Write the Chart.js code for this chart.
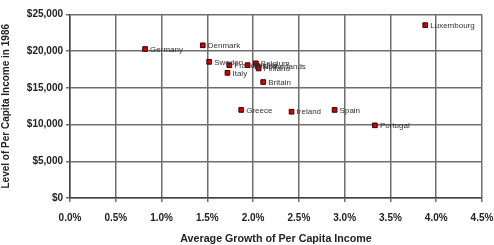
<!DOCTYPE html>
<html>
<head>
<meta charset="utf-8">
<script src="https://cdn.jsdelivr.net/npm/chart.js@4/dist/chart.umd.min.js"></script>
<style>
  html, body { margin: 0; padding: 0; background: #fff; }
  #wrap { width: 494px; height: 245px; }
</style>
</head>
<body>
<div id="wrap"><canvas id="chart" width="494" height="245"></canvas></div>
<script>
// countries, growth (%) and 1986 per capita income
var COUNTRIES = ["Germany", "Denmark", "Sweden", "France", "Italy", "Austria", "Belgium",
                 "Netherlands", "Finland", "Britain", "Greece", "Ireland", "Spain", "Portugal", "Luxembourg"];
var GROWTH = [0.82, 1.45, 1.52, 1.74, 1.72, 1.94, 2.03, 2.05, 2.06, 2.11, 1.87, 2.42, 2.89, 3.33, 3.88];
var INCOME = [20300, 20800, 18550, 18100, 17050, 18100, 18350, 17950, 17650, 15800, 12000, 11750, 12000, 9900, 23550];

var X_TICKS = [0, 0.5, 1.0, 1.5, 2.0, 2.5, 3.0, 3.5, 4.0, 4.5];
var Y_TICKS = [0, 5000, 10000, 15000, 20000, 25000];

var FONT = "'Liberation Sans', Arial, sans-serif";

// draws the country name to the right of every marker
var pointLabels = {
    id: "pointLabels",
    afterDatasetsDraw: function(chart) {
        var ctx = chart.ctx;
        var meta = chart.getDatasetMeta(0);
        ctx.save();
        ctx.font = "8px " + FONT;
        ctx.fillStyle = "#333";
        ctx.textBaseline = "middle";
        ctx.textAlign = "left";
        meta.data.forEach(function(pt, i) {
            ctx.fillText(COUNTRIES[i], pt.x + 5, pt.y + 0.5);
        });
        ctx.restore();
    }
};

function buildData() {
    var pts = [];
    for (var i = 0; i < COUNTRIES.length; i++)
        pts.push({ x: GROWTH[i], y: INCOME[i] });
    return pts;
}

new Chart(document.getElementById("chart"), {
    type: "scatter",
    data: {
        datasets: [{
            data: buildData(),
            pointStyle: "rect",
            pointRadius: 3.3,
            pointBackgroundColor: "#d00000",
            pointBorderColor: "#3a0000",
            pointBorderWidth: 1
        }]
    },
    options: {
        responsive: false,
        animation: false,
        layout: { padding: { top: 14.5, right: 0, left: 0, bottom: 0 } },
        plugins: {
            legend: { display: false },
            tooltip: { enabled: false }
        },
        scales: {
            x: {
                type: "linear",
                min: 0,
                max: 4.5,
                afterBuildTicks: function(axis) {
                    axis.ticks = X_TICKS.map(function(v) { return { value: v }; });
                },
                // fixed height for the axis + title, and only room for half the last label
                afterFit: function(axis) {
                    axis.height = 47;
                    axis.paddingRight = 12;
                },
                ticks: {
                    callback: function(v) { return v.toFixed(1) + "%"; },
                    font: { family: FONT, size: 10, weight: "bold" },
                    color: "#222",
                    maxRotation: 0,
                    padding: 10
                },
                grid: { color: "#6e6e6e", lineWidth: 1.5, tickLength: 4 },
                border: { color: "#444", width: 1.5 },
                title: {
                    display: true,
                    text: "Average Growth of Per Capita Income",
                    font: { family: FONT, size: 10.7, weight: "bold" },
                    color: "#222",
                    padding: { top: 7, bottom: 0 }
                }
            },
            y: {
                type: "linear",
                min: 0,
                max: 25000,
                afterBuildTicks: function(axis) {
                    axis.ticks = Y_TICKS.map(function(v) { return { value: v }; });
                },
                afterFit: function(axis) { axis.width = 70; },
                ticks: {
                    callback: function(v) { return "$" + v.toLocaleString("en-US"); },
                    font: { family: FONT, size: 10, weight: "bold" },
                    color: "#222",
                    padding: 3
                },
                grid: { color: "#6e6e6e", lineWidth: 1.5, tickLength: 4 },
                border: { color: "#444", width: 1.5 },
                title: {
                    display: true,
                    text: "Level of Per Capita Income in 1986",
                    font: { family: FONT, size: 10, weight: "bold" },
                    color: "#222",
                    padding: { top: 0, bottom: 2 }
                }
            }
        }
    },
    plugins: [pointLabels]
});
</script>
</body>
</html>
